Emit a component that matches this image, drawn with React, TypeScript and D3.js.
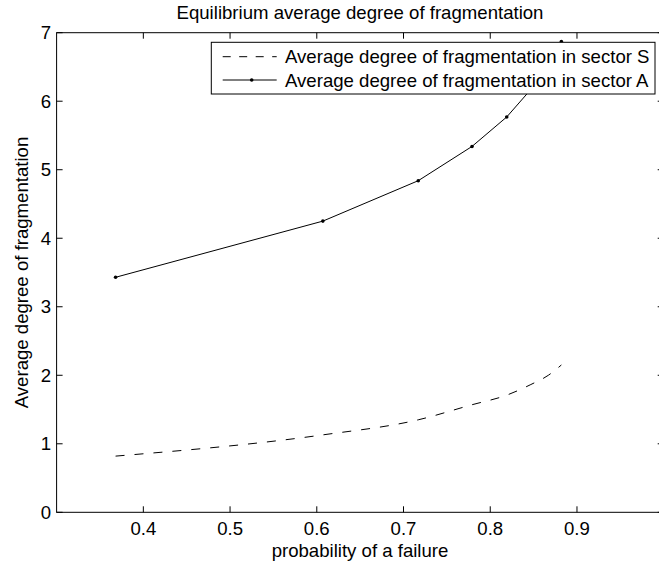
import React from "react";
import * as d3 from "d3";

const xValues = [0.368, 0.607, 0.717, 0.779, 0.819, 0.846, 0.867, 0.882];
const sectorS = [0.82, 1.13, 1.35, 1.57, 1.71, 1.86, 2.0, 2.15];
const sectorA = [3.43, 4.25, 4.84, 5.34, 5.77, 6.16, 6.52, 6.87];
const xTicks = [0.4, 0.5, 0.6, 0.7, 0.8, 0.9];
const yTicks = [0, 1, 2, 3, 4, 5, 6, 7];
const legendLabels = [
  "Average degree of fragmentation in sector S",
  "Average degree of fragmentation in sector A",
];
const title = "Equilibrium average degree of fragmentation";
const xLabel = "probability of a failure";
const yLabel = "Average degree of fragmentation";

const W = 659;
const H = 565;
const left = 56.6;
const right = 663.7;
const top = 32.7;
const bottom = 512.3;
const FONT = "'Liberation Sans', Arial, Helvetica, sans-serif";
const FS = 18.6;

export default function App() {
  const x = d3.scaleLinear().domain([0.3, 1.0]).range([left, right]);
  const y = d3.scaleLinear().domain([0, 7]).range([bottom, top]);

  const pts = (ys: number[]) => xValues.map((xv, i) => [xv, ys[i]] as [number, number]);
  const lineS = d3
    .line<[number, number]>()
    .x((d) => x(d[0]))
    .y((d) => y(d[1]))
    .curve(d3.curveMonotoneX);
  const lineA = d3
    .line<[number, number]>()
    .x((d) => x(d[0]))
    .y((d) => y(d[1]));

  const tl = 6;
  const legX = 211.3;
  const legY = 42.3;
  const legW = 655 - 211.3;
  const legH = 94 - 42.3;
  const rowY = [56.7, 80];

  return (
    <svg
      width={W}
      height={H}
      style={{ position: "absolute", left: 0, top: 0, background: "#fff" }}
      fontFamily={FONT}
    >
      <rect x={0} y={0} width={W} height={H} fill="#fff" />
      <defs>
        <clipPath id="plotClip">
          <rect x={left} y={top} width={right - left} height={bottom - top} />
        </clipPath>
      </defs>

      <text x={360} y={19} textAnchor="middle" fontSize={FS} fill="#000">
        {title}
      </text>

      <g clipPath="url(#plotClip)">
        <path
          d={lineS(pts(sectorS)) || ""}
          fill="none"
          stroke="#000"
          strokeWidth={1}
          strokeDasharray="9,10"
        />
        <path d={lineA(pts(sectorA)) || ""} fill="none" stroke="#000" strokeWidth={1} />
        {pts(sectorA).map((d, i) => (
          <circle key={i} cx={x(d[0])} cy={y(d[1])} r={1.8} fill="#000" />
        ))}
      </g>

      <rect
        x={left}
        y={top}
        width={right - left}
        height={bottom - top}
        fill="none"
        stroke="#000"
        strokeWidth={1}
      />

      {xTicks.map((t) => (
        <g key={"x" + t}>
          <line x1={x(t)} x2={x(t)} y1={bottom} y2={bottom - tl} stroke="#000" strokeWidth={1} />
          <line x1={x(t)} x2={x(t)} y1={top} y2={top + tl} stroke="#000" strokeWidth={1} />
          <text x={x(t)} y={535} textAnchor="middle" fontSize={FS} fill="#000">
            {t.toFixed(1)}
          </text>
        </g>
      ))}

      {yTicks.map((t) => (
        <g key={"y" + t}>
          <line x1={left} x2={left + tl} y1={y(t)} y2={y(t)} stroke="#000" strokeWidth={1} />
          <line x1={right} x2={right - tl} y1={y(t)} y2={y(t)} stroke="#000" strokeWidth={1} />
          <text x={51} y={y(t)} dy="0.36em" textAnchor="end" fontSize={FS} fill="#000">
            {t}
          </text>
        </g>
      ))}

      <text x={360} y={556.5} textAnchor="middle" fontSize={FS} fill="#000">
        {xLabel}
      </text>
      <text
        transform={`translate(28.3, ${(top + bottom) / 2}) rotate(-90)`}
        textAnchor="middle"
        fontSize={FS}
        fill="#000"
      >
        {yLabel}
      </text>

      <rect x={legX} y={legY} width={legW} height={legH} fill="#fff" stroke="#000" strokeWidth={1} />
      <line
        x1={222.7}
        x2={276.7}
        y1={rowY[0]}
        y2={rowY[0]}
        stroke="#000"
        strokeWidth={1}
        strokeDasharray="8,8.5"
      />
      <line x1={222.7} x2={276.7} y1={rowY[1]} y2={rowY[1]} stroke="#000" strokeWidth={1} />
      <circle cx={251.7} cy={rowY[1]} r={1.8} fill="#000" />
      {legendLabels.map((l, i) => (
        <text key={l} x={285} y={rowY[i]} dy="0.36em" fontSize={FS} fill="#000">
          {l}
        </text>
      ))}
    </svg>
  );
}
